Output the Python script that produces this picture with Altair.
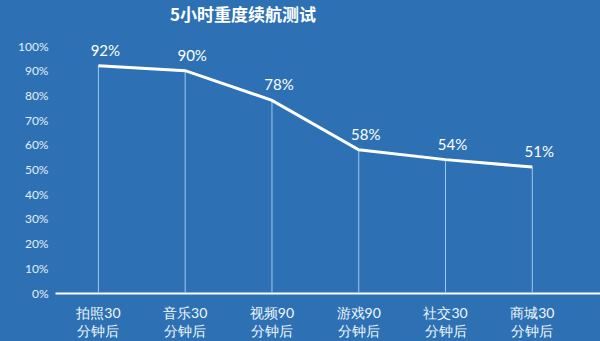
import altair as alt
import pandas as pd

categories = ["拍照30\n分钟后", "音乐30\n分钟后", "视频90\n分钟后", "游戏90\n分钟后", "社交30\n分钟后", "商城30\n分钟后"]
values = [92, 90, 78, 58, 54, 51]
y_ticks = [0, 10, 20, 30, 40, 50, 60, 70, 80, 90, 100]

df = pd.DataFrame({"cat": categories, "val": values})
df["label"] = df["val"].astype(str) + "%"

BG = "#2d71b4"
FONT = "Lato"

x_enc = alt.X(
    "cat:N",
    sort=categories,
    scale=alt.Scale(paddingInner=0, paddingOuter=0.14, align=0),
    axis=alt.Axis(
        title=None,
        labelAngle=0,
        labelExpr="split(datum.label, '\\n')",
        labelColor="#f2f7fc",
        labelFontSize=14,
        labelFont=FONT,
        labelLineHeight=18,
        labelPadding=13,
        ticks=False,
        domainColor="#ffffff",
        domainWidth=2,
        grid=False,
    ),
)
y_enc = alt.Y(
    "val:Q",
    scale=alt.Scale(domain=[0, 100]),
    axis=alt.Axis(
        title=None,
        values=y_ticks,
        labelOverlap=False,
        labelExpr="datum.value + '%'",
        labelColor="#e3eef9",
        labelFontSize=12,
        labelFont=FONT,
        labelPadding=7,
        ticks=False,
        domain=False,
        grid=False,
    ),
)

base = alt.Chart(df).encode(x=x_enc, y=y_enc)

drops = base.mark_rule(color="#a2c8ec", strokeWidth=1).encode(y2=alt.datum(0))

line = base.mark_line(color="#ffffff", strokeWidth=3)

labels = base.mark_text(
    color="#ffffff", fontSize=15, font=FONT, dx=7, dy=-15, baseline="middle", align="center"
).encode(text="label:N")

chart = (
    alt.layer(drops, line, labels)
    .properties(
        width=545,
        height=247,
        background=BG,
        padding={"left": 55, "top": 46, "right": 0, "bottom": 48},
        autosize=alt.AutoSizeParams(type="none"),
        title=alt.TitleParams(
            "5小时重度续航测试",
            color="#ffffff",
            fontSize=17,
            font="Noto Sans CJK SC",
            fontWeight="bold",
            anchor="start",
            frame="group",
            dx=115,
            offset=15,
        ),
    )
    .configure_view(stroke=None)
)

chart.save("out.html", embed_options={"renderer": "svg", "actions": False})
